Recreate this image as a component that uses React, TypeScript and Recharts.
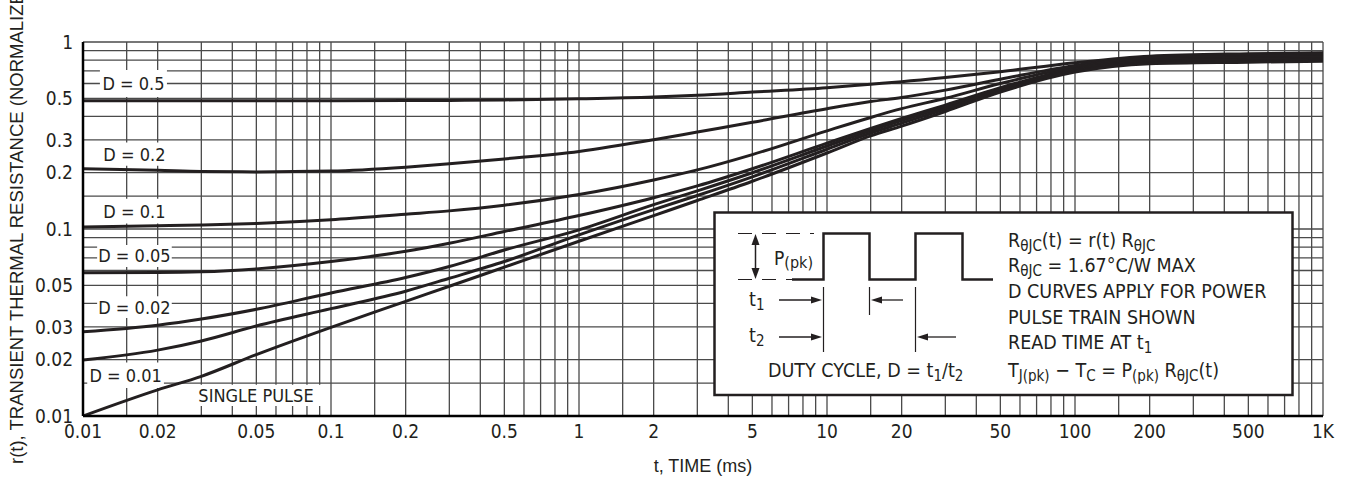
import { LineChart, Line, XAxis, YAxis, CartesianGrid, ReferenceArea } from "recharts";

const INK = "#231f20";
const GRID = "#4a4a4a";
const NARROW = '"Liberation Sans Narrow", "DejaVu Sans Condensed", "Liberation Sans", sans-serif';
const REGULAR = '"Liberation Sans", Arial, sans-serif';

// time axis samples (ms)
const TIME_MS = [0.01, 0.02, 0.03, 0.05, 0.1, 0.2, 0.3, 0.5, 1, 2, 3, 5, 10, 15, 20, 30, 50, 100, 200, 500, 1000];

// r(t), one value per TIME_MS entry
const D_050 = [0.485, 0.485, 0.485, 0.485, 0.485, 0.486, 0.487, 0.49, 0.497, 0.508, 0.519, 0.54, 0.57, 0.595, 0.613, 0.645, 0.694, 0.775, 0.84, 0.865, 0.875];
const D_020 = [0.21, 0.206, 0.203, 0.202, 0.204, 0.214, 0.223, 0.237, 0.26, 0.3, 0.33, 0.372, 0.44, 0.48, 0.505, 0.553, 0.632, 0.75, 0.83, 0.85, 0.86];
const D_010 = [0.1025, 0.104, 0.105, 0.107, 0.112, 0.12, 0.125, 0.134, 0.153, 0.183, 0.207, 0.25, 0.335, 0.395, 0.44, 0.5, 0.6, 0.735, 0.815, 0.835, 0.845];
const D_005 = [0.0584, 0.0585, 0.059, 0.0612, 0.067, 0.076, 0.084, 0.097, 0.118, 0.147, 0.17, 0.21, 0.288, 0.345, 0.39, 0.46, 0.57, 0.72, 0.8, 0.82, 0.83];
const D_002 = [0.0282, 0.0306, 0.033, 0.0372, 0.0455, 0.055, 0.063, 0.0772, 0.099, 0.135, 0.16, 0.2, 0.278, 0.336, 0.38, 0.45, 0.56, 0.71, 0.79, 0.805, 0.815];
const D_001 = [0.0199, 0.0225, 0.0252, 0.0303, 0.0375, 0.0465, 0.0545, 0.067, 0.093, 0.127, 0.151, 0.19, 0.267, 0.326, 0.368, 0.438, 0.55, 0.7, 0.775, 0.79, 0.8];
const SINGLE = [0.01, 0.0138, 0.0163, 0.0213, 0.0298, 0.041, 0.0494, 0.0625, 0.086, 0.118, 0.142, 0.18, 0.255, 0.315, 0.355, 0.425, 0.54, 0.69, 0.765, 0.78, 0.79];

const SERIES_KEYS = ["d050", "d020", "d010", "d005", "d002", "d001", "single"];
const SERIES_VALUES = [D_050, D_020, D_010, D_005, D_002, D_001, SINGLE];

// grid lines (every 1, 1.5, 2 ... 9 per decade) and the labelled subset
const X_GRID = [
  0.01, 0.015, 0.02, 0.03, 0.04, 0.05, 0.06, 0.07, 0.08, 0.09,
  0.1, 0.15, 0.2, 0.3, 0.4, 0.5, 0.6, 0.7, 0.8, 0.9,
  1, 1.5, 2, 3, 4, 5, 6, 7, 8, 9,
  10, 15, 20, 30, 40, 50, 60, 70, 80, 90,
  100, 150, 200, 300, 400, 500, 600, 700, 800, 900, 1000,
];
const X_LABEL_AT = [0.01, 0.02, 0.05, 0.1, 0.2, 0.5, 1, 2, 5, 10, 20, 50, 100, 200, 500, 1000];
const X_LABEL_TEXT = ["0.01", "0.02", "0.05", "0.1", "0.2", "0.5", "1", "2", "5", "10", "20", "50", "100", "200", "500", "1K"];

const Y_GRID = [
  0.01, 0.015, 0.02, 0.03, 0.04, 0.05, 0.06, 0.07, 0.08, 0.09,
  0.1, 0.15, 0.2, 0.3, 0.4, 0.5, 0.6, 0.7, 0.8, 0.9, 1,
];
const Y_LABEL_AT = [0.01, 0.02, 0.03, 0.05, 0.1, 0.2, 0.3, 0.5, 1];
const Y_LABEL_TEXT = ["0.01", "0.02", "0.03", "0.05", "0.1", "0.2", "0.3", "0.5", "1"];

// white label boxes on the grid: [x1, x2, y1, y2] in data units
const CURVE_LABELS = ["D = 0.5", "D = 0.2", "D = 0.1", "D = 0.05", "D = 0.02", "D = 0.01", "SINGLE PULSE"];
const CURVE_LABEL_BOXES = [
  [0.0117, 0.0218, 0.508, 0.708],
  [0.0117, 0.0222, 0.218, 0.29],
  [0.0117, 0.0222, 0.107, 0.145],
  [0.0114, 0.0228, 0.0626, 0.082],
  [0.0114, 0.0228, 0.0334, 0.0437],
  [0.0104, 0.0212, 0.0141, 0.0193],
  [0.027, 0.092, 0.0113, 0.0147],
];

const rows = TIME_MS.map((t, i) => {
  const row: Record<string, number> = { t };
  SERIES_KEYS.forEach((k, s) => {
    row[k] = SERIES_VALUES[s][i];
  });
  return row;
});

const fmtX = (v: number) => {
  const i = X_LABEL_AT.indexOf(v);
  return i >= 0 ? X_LABEL_TEXT[i] : "";
};
const fmtY = (v: number) => {
  const i = Y_LABEL_AT.indexOf(v);
  return i >= 0 ? Y_LABEL_TEXT[i] : "";
};

function Arrow({ x1, x2, y }: { x1: number; x2: number; y: number }) {
  // horizontal arrow with filled head at x2
  const dir = x2 > x1 ? 1 : -1;
  return (
    <g>
      <line x1={x1} y1={y} x2={x2 - dir * 8} y2={y} stroke={INK} strokeWidth={1.3} />
      <polygon points={`${x2},${y} ${x2 - dir * 11},${y - 3.5} ${x2 - dir * 11},${y + 3.5}`} fill={INK} />
    </g>
  );
}

function Sub({ children }: { children: string }) {
  return (
    <tspan fontSize={15} dy={4}>
      {children}
    </tspan>
  );
}
function Up({ children }: { children: string }) {
  return <tspan dy={-4}>{children}</tspan>;
}

const INSET_FS = 19.5;

function Overlay() {
  return (
    <svg
      width={1356}
      height={483}
      style={{ position: "absolute", left: 0, top: 0, pointerEvents: "none" }}
    >
      {/* y axis title, runs off the top like the original */}
      <text
        x={23}
        y={464}
        transform="rotate(-90 23 464)"
        fontFamily={REGULAR}
        fontSize={18.5}
        fill={INK}
      >
        r(t), TRANSIENT THERMAL RESISTANCE (NORMALIZED)
      </text>

      {/* inset box */}
      <g fontFamily={NARROW} fill={INK}>
        <rect x={714.5} y={212.5} width={578} height={182.5} fill="#fff" stroke={INK} strokeWidth={2.5} />
        <line x1={738} y1={233.5} x2={814} y2={233.5} stroke={INK} strokeWidth={1.2} strokeDasharray="14 10" />
        <line x1={738} y1={279.5} x2={792} y2={279.5} stroke={INK} strokeWidth={1.2} strokeDasharray="14 10" />
        <line x1={755.5} y1={240} x2={755.5} y2={273} stroke={INK} strokeWidth={1.5} />
        <polygon points="755.5,234 751.5,245 759.5,245" fill={INK} />
        <polygon points="755.5,279 751.5,268 759.5,268" fill={INK} />
        <text x={774} y={265} fontSize={19}>
          P<tspan fontSize={16} dy={3}>(pk)</tspan>
        </text>
        <path
          d="M792 279.5 H823.5 V233.5 H869.5 V279.5 H915.5 V233.5 H962.5 V279.5 H993"
          fill="none"
          stroke={INK}
          strokeWidth={2.5}
        />
        <line x1={823.5} y1={287} x2={823.5} y2={352} stroke={INK} strokeWidth={1.2} />
        <line x1={869.5} y1={287} x2={869.5} y2={315} stroke={INK} strokeWidth={1.2} />
        <line x1={915.5} y1={287} x2={915.5} y2={352} stroke={INK} strokeWidth={1.2} />
        <text x={749} y={306} fontSize={INSET_FS}>
          t<Sub>1</Sub>
        </text>
        <Arrow x1={779} x2={822} y={300} />
        <Arrow x1={903} x2={871} y={300} />
        <text x={749} y={342} fontSize={INSET_FS}>
          t<Sub>2</Sub>
        </text>
        <Arrow x1={779} x2={822} y={337} />
        <Arrow x1={956} x2={917} y={337} />
        <text x={768} y={377} fontSize={INSET_FS}>
          DUTY CYCLE, D = t<Sub>1</Sub>
          <Up>/t</Up>
          <Sub>2</Sub>
        </text>

        <text x={1008} y={247} fontSize={INSET_FS}>
          R<Sub>θJC</Sub>
          <Up>(t) = r(t) R</Up>
          <Sub>θJC</Sub>
        </text>
        <text x={1008} y={272} fontSize={INSET_FS}>
          R<Sub>θJC</Sub>
          <Up> = 1.67°C/W MAX</Up>
        </text>
        <text x={1008} y={298} fontSize={INSET_FS}>
          D CURVES APPLY FOR POWER
        </text>
        <text x={1008} y={324} fontSize={INSET_FS}>
          PULSE TRAIN SHOWN
        </text>
        <text x={1008} y={349} fontSize={INSET_FS}>
          READ TIME AT t<Sub>1</Sub>
        </text>
        <text x={1008} y={377} fontSize={INSET_FS}>
          T<Sub>J(pk)</Sub>
          <Up> − T</Up>
          <Sub>C</Sub>
          <Up> = P</Up>
          <Sub>(pk)</Sub>
          <Up> R</Up>
          <Sub>θJC</Sub>
          <Up>(t)</Up>
        </text>
      </g>
    </svg>
  );
}

export default function App() {
  return (
    <div
      style={{
        position: "absolute",
        left: 0,
        top: 0,
        width: 1356,
        height: 483,
        background: "#fff",
        fontFamily: NARROW,
        overflow: "hidden",
      }}
    >
      <LineChart
        width={1356}
        height={483}
        data={rows}
        margin={{ top: 42, right: 33, bottom: 0, left: 0 }}
      >
        <CartesianGrid stroke={GRID} strokeWidth={1.3} />
        <XAxis
          dataKey="t"
          type="number"
          scale="log"
          domain={[0.01, 1000]}
          allowDataOverflow
          ticks={X_GRID}
          interval={0}
          tickFormatter={fmtX}
          tickLine={false}
          tickSize={0}
          tickMargin={9}
          height={67}
          axisLine={{ stroke: "#000", strokeWidth: 2.5 }}
          tick={{ fill: INK, fontSize: 19, fontFamily: NARROW }}
          label={{
            value: "t, TIME (ms)",
            position: "insideBottom",
            offset: 11,
            fill: INK,
            fontSize: 18,
            fontFamily: REGULAR,
          }}
        />
        <YAxis
          type="number"
          scale="log"
          domain={[0.01, 1]}
          allowDataOverflow
          ticks={Y_GRID}
          interval={0}
          tickFormatter={fmtY}
          tickLine={false}
          tickSize={0}
          tickMargin={10}
          width={83}
          axisLine={{ stroke: "#000", strokeWidth: 2.5 }}
          tick={{ fill: INK, fontSize: 19, fontFamily: NARROW }}
        />
        {CURVE_LABEL_BOXES.map(([x1, x2, y1, y2], i) => (
          <ReferenceArea
            key={CURVE_LABELS[i]}
            x1={x1}
            x2={x2}
            y1={y1}
            y2={y2}
            fill="#fff"
            fillOpacity={1}
            stroke="none"
            label={{
              value: CURVE_LABELS[i],
              position: "center",
              fill: INK,
              fontSize: 18,
              fontFamily: NARROW,
            }}
          />
        ))}
        {SERIES_KEYS.map((k) => (
          <Line
            key={k}
            dataKey={k}
            type="monotone"
            stroke={INK}
            strokeWidth={3}
            dot={false}
            activeDot={false}
            isAnimationActive={false}
          />
        ))}
      </LineChart>
      <Overlay />
    </div>
  );
}
